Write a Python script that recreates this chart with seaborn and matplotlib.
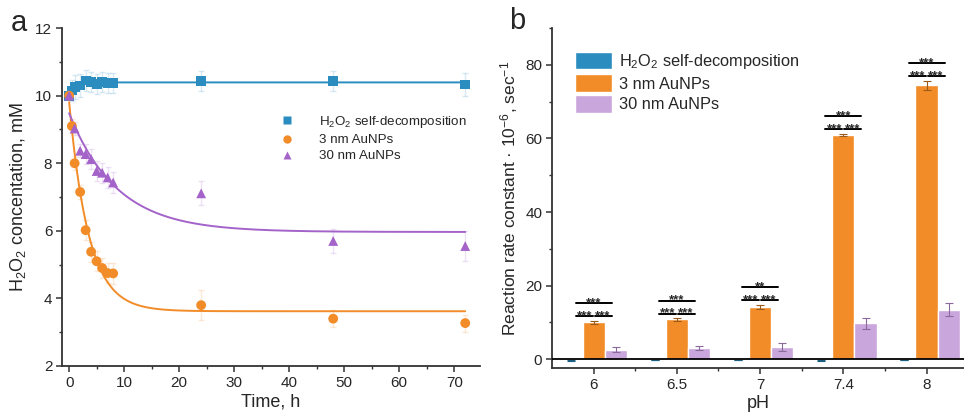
import numpy as np
import pandas as pd
import matplotlib
matplotlib.use("Agg")
import matplotlib.pyplot as plt
from matplotlib.ticker import MultipleLocator
import seaborn as sns

# ---------------- data: panel a ----------------
series_names = ["H$_\\mathregular{2}$O$_\\mathregular{2}$ self-decomposition", "3 nm AuNPs", "30 nm AuNPs"]

t_blue = [0, 0.5, 1, 2, 3, 4, 5, 6, 7, 8, 24, 48, 72]
c_blue = [10.0, 10.15, 10.25, 10.3, 10.45, 10.4, 10.35, 10.4, 10.37, 10.38, 10.43, 10.43, 10.33]
e_blue = [0.05, 0.3, 0.35, 0.35, 0.3, 0.3, 0.3, 0.3, 0.3, 0.3, 0.3, 0.3, 0.35]

t_orange = [0, 0.5, 1, 2, 3, 4, 5, 6, 7, 8, 24, 48, 72]
c_orange = [10.0, 9.1, 8.0, 7.15, 6.02, 5.38, 5.1, 4.9, 4.75, 4.74, 3.8, 3.4, 3.27]
e_orange = [0.0, 0.2, 0.2, 0.2, 0.3, 0.3, 0.3, 0.3, 0.3, 0.3, 0.45, 0.25, 0.25]

t_purple = [0, 1, 2, 3, 4, 5, 6, 7, 8, 24, 48, 72]
c_purple = [10.0, 9.03, 8.37, 8.27, 8.12, 7.77, 7.72, 7.58, 7.43, 7.11, 5.7, 5.55]
e_purple = [0.0, 0.2, 0.2, 0.3, 0.3, 0.3, 0.3, 0.3, 0.3, 0.35, 0.35, 0.45]

# ---------------- data: panel b ----------------
ph_labels = ["6", "6.5", "7", "7.4", "8"]
rate_blue = [-0.3, -0.2, -0.2, -0.3, -0.2]
rate_orange = [10.0, 10.8, 14.2, 61.0, 74.5]
rate_purple = [2.6, 3.0, 3.3, 9.8, 13.5]
err_blue = [0.1, 0.1, 0.1, 0.1, 0.1]
err_orange = [0.4, 0.3, 0.6, 0.3, 1.2]
err_purple = [0.7, 0.6, 1.0, 1.5, 1.7]
sig_top = ["***", "***", "**", "***", "***"]
sig_low_left = ["***", "***", "***", "***", "***"]
sig_low_right = ["***", "***", "***", "***", "***"]

col_blue = "#2a8cbf"
col_orange = "#f28c28"
col_purple_line = "#a463c9"
col_purple_bar = "#c9a6dc"

sns.set_theme(style="white")
plt.rcParams["font.family"] = ["Liberation Sans", "DejaVu Sans"]
plt.rcParams["mathtext.fontset"] = "custom"
plt.rcParams["mathtext.rm"] = "Liberation Sans"
plt.rcParams["mathtext.it"] = "Liberation Sans:italic"
plt.rcParams["mathtext.bf"] = "Liberation Sans:bold"

fig = plt.figure(figsize=(9.64, 4.19), dpi=100)
axa = fig.add_axes([0.0643, 0.1265, 0.4337, 0.8065])
axb = fig.add_axes([0.5726, 0.1217, 0.4274, 0.8113])

# ---------- panel a ----------
df_a = pd.concat([
    pd.DataFrame({"t": t_blue, "c": c_blue, "e": e_blue, "s": series_names[0]}),
    pd.DataFrame({"t": t_orange, "c": c_orange, "e": e_orange, "s": series_names[1]}),
    pd.DataFrame({"t": t_purple, "c": c_purple, "e": e_purple, "s": series_names[2]}),
], ignore_index=True)
pal_a = {series_names[0]: col_blue, series_names[1]: col_orange, series_names[2]: col_purple_line}


def exp_fit(t, y):
    t = np.asarray(t, float)
    y = np.asarray(y, float)
    best = None
    for k in np.linspace(0.02, 3.0, 1500):
        X = np.column_stack([np.ones_like(t), np.exp(-k * t)])
        coef, *_ = np.linalg.lstsq(X, y, rcond=None)
        r = np.sum((X @ coef - y) ** 2)
        if best is None or r < best[0]:
            best = (r, k, coef)
    return best[1], best[2]


tt = np.linspace(0, 72, 500)
for name in series_names:
    sub = df_a[df_a.s == name]
    axa.errorbar(sub.t, sub.c, yerr=sub.e, fmt="none", ecolor=pal_a[name],
                 alpha=0.18, elinewidth=1, capsize=2, zorder=1)
    k, coef = exp_fit(sub.t, sub.c)
    fit_df = pd.DataFrame({"t": tt, "c": coef[0] + coef[1] * np.exp(-k * tt)})
    sns.lineplot(data=fit_df, x="t", y="c", color=pal_a[name], lw=1.4, ax=axa,
                 legend=False, zorder=2)

sns.scatterplot(data=df_a, x="t", y="c", hue="s", style="s", palette=pal_a,
                markers={series_names[0]: "s", series_names[1]: "o", series_names[2]: "^"},
                s=50, edgecolor="none", ax=axa, zorder=3)
sns.move_legend(axa, loc="upper left", bbox_to_anchor=(0.49, 0.765), frameon=False,
                title=None, fontsize=9.6, handletextpad=1.4, labelspacing=0.28,
                borderpad=0, markerscale=0.85)

axa.set_xlim(-1.3, 74.7)
axa.set_ylim(2, 12)
axa.xaxis.set_major_locator(MultipleLocator(10))
axa.xaxis.set_minor_locator(MultipleLocator(5))
axa.yaxis.set_major_locator(MultipleLocator(2))
axa.yaxis.set_minor_locator(MultipleLocator(1))
axa.set_xlabel("Time, h", fontsize=13, labelpad=3)
axa.set_ylabel("H$_\\mathregular{2}$O$_\\mathregular{2}$ concentation, mM", fontsize=13, labelpad=5)

# ---------- panel b ----------
df_b = pd.concat([
    pd.DataFrame({"pH": ph_labels, "r": rate_blue, "e": err_blue, "g": series_names[0]}),
    pd.DataFrame({"pH": ph_labels, "r": rate_orange, "e": err_orange, "g": series_names[1]}),
    pd.DataFrame({"pH": ph_labels, "r": rate_purple, "e": err_purple, "g": series_names[2]}),
], ignore_index=True)
pal_b = {series_names[0]: col_blue, series_names[1]: col_orange, series_names[2]: col_purple_bar}
sns.barplot(data=df_b, x="pH", y="r", hue="g", order=ph_labels, hue_order=series_names,
            palette=pal_b, saturation=1, errorbar=None, width=0.8, ax=axb, zorder=2)

ecols = ["#1a5f80", "#9a5a1a", "#8a6a9a"]
centers = []
for cont, name, ec in zip(axb.containers, series_names, ecols):
    sub = df_b[df_b.g == name]
    xs = [p.get_x() + p.get_width() / 2 for p in cont.patches]
    centers.append(xs)
    axb.errorbar(xs, sub.r, yerr=sub.e, fmt="none", ecolor=ec, elinewidth=0.8,
                 capsize=3, capthick=0.8, zorder=3)

axb.axhline(0, color="black", lw=1.3, zorder=4)

# significance brackets
for i in range(len(ph_labels)):
    xb, xo, xp = centers[0][i], centers[1][i], centers[2][i]
    top = rate_orange[i] + err_orange[i]
    y_low = top + 1.3
    y_high = y_low + 3.5
    inset = 0.05
    axb.plot([xb + inset, xp - inset], [y_high, y_high], color="black", lw=1.4, zorder=5)
    axb.plot([xb + inset, xo - 0.012], [y_low, y_low], color="black", lw=1.4, zorder=5)
    axb.plot([xo + 0.012, xp - inset], [y_low, y_low], color="black", lw=1.4, zorder=5)
    axb.text((xb + xp) / 2, y_high - 1.6, sig_top[i], ha="center", va="bottom",
             fontsize=9.5, fontweight="bold", zorder=5)
    axb.text((xb + inset + xo) / 2, y_low - 1.6, sig_low_left[i], ha="center", va="bottom",
             fontsize=9.5, fontweight="bold", zorder=5)
    axb.text((xo + xp - inset) / 2, y_low - 1.6, sig_low_right[i], ha="center", va="bottom",
             fontsize=9.5, fontweight="bold", zorder=5)

sns.move_legend(axb, loc="upper left", bbox_to_anchor=(0.035, 0.955), frameon=False,
                title=None, fontsize=11.8, handlelength=2.3, handleheight=1.25,
                labelspacing=0.22, handletextpad=0.4, borderpad=0)

axb.set_xlim(-0.5, 4.45)
axb.set_ylim(-2.4, 90)
axb.yaxis.set_major_locator(MultipleLocator(20))
axb.yaxis.set_minor_locator(MultipleLocator(10))
axb.set_xticks(np.arange(0.5, 4.5, 1.0), minor=True)
axb.set_xlabel("pH", fontsize=13, labelpad=2)
axb.set_ylabel("Reaction rate constant · 10$^{\\mathregular{-6}}$, sec$^{\\mathregular{-1}}$",
               fontsize=12.5, labelpad=4)

for ax in (axa, axb):
    for side in ("top", "right"):
        ax.spines[side].set_visible(False)
    for side in ("left", "bottom"):
        ax.spines[side].set_color("#333333")
        ax.spines[side].set_linewidth(1.3)
    ax.tick_params(which="major", direction="out", length=4, width=1.1, labelsize=11,
                   color="#333333", left=True, bottom=True, pad=3)
    ax.tick_params(which="minor", direction="out", length=2.5, width=1.0,
                   color="#333333", left=True, bottom=True)
    ax.patch.set_alpha(0)

fig.text(0.011, 0.925, "a", fontsize=21)
fig.text(0.528, 0.93, "b", fontsize=21)

fig.savefig("out.png", dpi=100)
